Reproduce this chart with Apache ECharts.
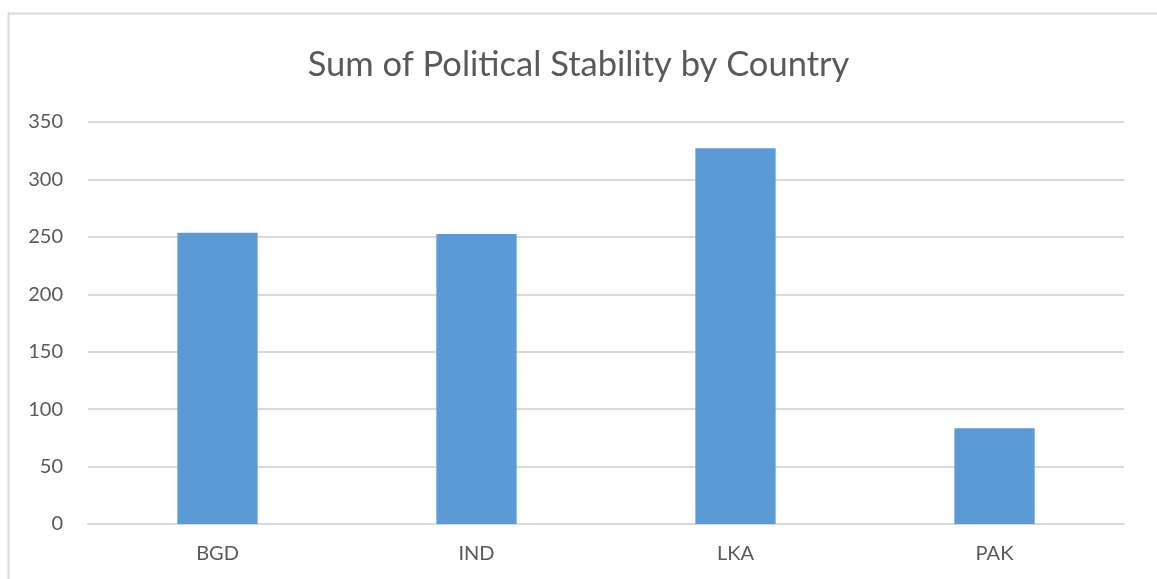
<!DOCTYPE html>
<html>
<head>
<meta charset="utf-8">
<script src="https://cdn.jsdelivr.net/npm/echarts@6/dist/echarts.min.js"></script>
<style>
  html, body { margin: 0; padding: 0; background: #ffffff; }
  #chart { width: 1157px; height: 579px; }
</style>
</head>
<body>
<div id="chart"></div>
<script>
// Political stability totals per country
const countries = ['BGD', 'IND', 'LKA', 'PAK'];
const stabilitySum = [253.6, 252.5, 327.1, 83.3];
const yTicks = { min: 0, max: 350, interval: 50 };

const chart = echarts.init(document.getElementById('chart'), null, { renderer: 'canvas' });

chart.setOption({
  backgroundColor: '#ffffff',
  animation: false,
  title: {
    text: 'Sum of Political Stability by Country',
    left: 'center',
    top: 42,
    textStyle: {
      fontFamily: 'Lato, "Open Sans", sans-serif',
      fontSize: 34.5,
      fontWeight: 'normal',
      color: '#595959'
    }
  },
  graphic: [{
    type: 'rect',
    shape: { x: 8.5, y: 13.5, width: 1200, height: 700 },
    style: { fill: 'none', stroke: '#d9d9d9', lineWidth: 2 },
    silent: true,
    z: -1
  }],
  grid: { left: 88, right: 33, top: 122, bottom: 55 },
  xAxis: {
    type: 'category',
    data: countries,
    axisTick: { show: false },
    axisLine: { show: true, lineStyle: { color: '#d9d9d9', width: 2 } },
    axisLabel: {
      margin: 20,
      fontFamily: 'Lato, "Open Sans", sans-serif',
      fontSize: 20,
      color: '#595959'
    }
  },
  yAxis: {
    type: 'value',
    min: yTicks.min,
    max: yTicks.max,
    interval: yTicks.interval,
    axisLine: { show: false },
    axisTick: { show: false },
    splitLine: { lineStyle: { color: '#d9d9d9', width: 2 } },
    axisLabel: {
      margin: 25,
      fontFamily: 'Lato, "Open Sans", sans-serif',
      fontSize: 20,
      color: '#595959'
    }
  },
  series: [{
    type: 'bar',
    data: stabilitySum,
    barWidth: '31%',
    itemStyle: { color: '#5b9bd5' }
  }]
});
</script>
</body>
</html>
